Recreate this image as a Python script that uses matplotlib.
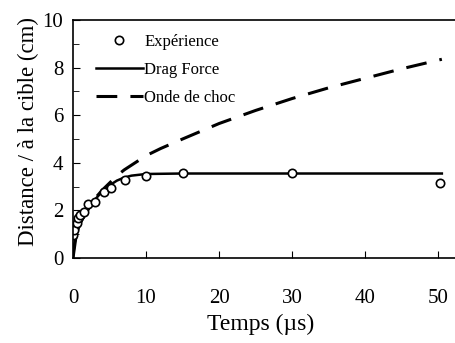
import matplotlib
matplotlib.use("Agg")
import matplotlib.pyplot as plt
from matplotlib.ticker import MultipleLocator

# Experimental data
t_exp = [0.05, 0.2, 0.5, 0.7, 0.9, 1.5, 2.1, 3.0, 4.2, 5.2, 7.1, 10.0, 15.1, 30.0, 50.3]
d_exp = [0.97, 1.18, 1.47, 1.67, 1.8, 1.95, 2.27, 2.37, 2.79, 2.93, 3.28, 3.46, 3.56, 3.56, 3.16]

# Drag force model
t_drag = [0, 0.2, 0.5, 1, 2, 3, 4, 5, 6, 7, 8, 10, 15, 20, 30, 50.5]
d_drag = [0, 0.6, 1.0, 1.45, 2.0, 2.45, 2.8, 3.05, 3.25, 3.38, 3.46, 3.53, 3.55, 3.55, 3.55, 3.55]

# Shock wave model
t_choc = [0, 0.5, 1, 2, 3, 4, 5, 6, 7, 8, 10, 12, 15, 20, 25, 30, 35, 40, 45, 50.5]
d_choc = [0, 1.1, 1.5, 2.0, 2.5, 2.85, 3.15, 3.45, 3.7, 3.9, 4.3, 4.6, 5.0, 5.65, 6.2, 6.7, 7.15, 7.55, 7.95, 8.35]

plt.rcParams['font.family'] = ['Liberation Serif', 'DejaVu Serif']

fig = plt.figure(figsize=(4.55, 3.43), dpi=100)
ax = fig.add_axes([73/455, 1 - 258/343, (455 - 73)/455, (258 - 20)/343])

ax.plot(t_choc, d_choc, color='black', lw=2.2, dashes=(6.8, 4.3), label='Onde de choc')
ax.plot(t_drag, d_drag, color='black', lw=1.8, label='Drag Force')
ax.plot(t_exp, d_exp, 'o', ms=6, mfc='white', mec='black', mew=1.2, label='Expérience')

ax.set_xlim(0, 52.3)
ax.set_ylim(0, 10)
ax.xaxis.set_major_locator(MultipleLocator(10))
ax.yaxis.set_major_locator(MultipleLocator(2))
ax.yaxis.set_minor_locator(MultipleLocator(1))
ax.tick_params(axis='both', which='both', direction='in', labelsize=15)
ax.tick_params(axis='x', length=5, pad=22)
ax.tick_params(axis='y', which='major', length=5, pad=7)
ax.tick_params(axis='y', which='minor', length=4)
ax.spines['right'].set_visible(False)
for s in ax.spines.values():
    s.set_linewidth(1.2)

ax.set_xlabel('Temps (µs)', fontsize=17)
ax.set_ylabel('Distance / à la cible (cm)', fontsize=16.5)
ax.xaxis.set_label_coords(0.49, -0.234)
ax.yaxis.set_label_coords(-0.088, 0.53)

h, l = ax.get_legend_handles_labels()
order = [2, 1, 0]
ax.legend([h[i] for i in order], [l[i] for i in order], loc='upper left', frameon=False,
          fontsize=12, handlelength=2.8, handletextpad=0.1, labelspacing=0.72,
          borderaxespad=0.3, bbox_to_anchor=(0.03, 0.99))

fig.savefig('out.png', dpi=100)
